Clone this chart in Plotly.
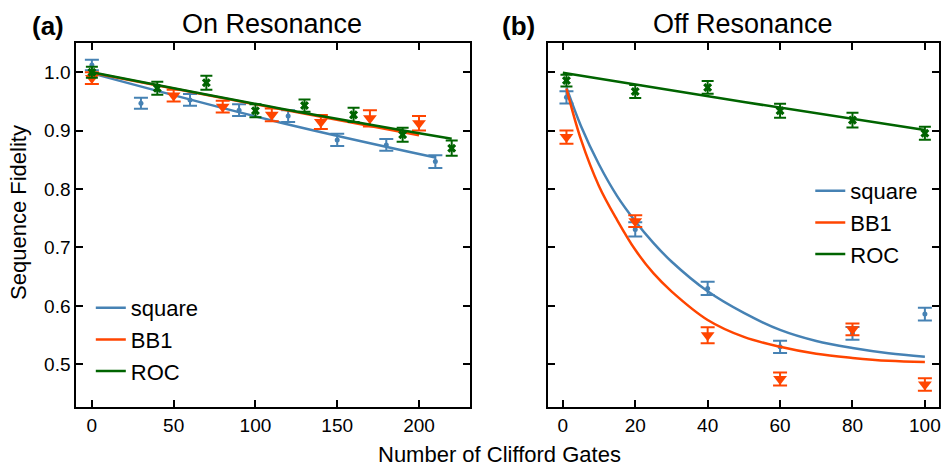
import plotly.graph_objects as go

W, H = 942, 467

# ---------------- data ----------------
# (a) On Resonance
on_square_x = [0, 30, 60, 90, 120, 150, 180, 210]
on_square_y = [1.0125, 0.947, 0.9526, 0.935, 0.925, 0.884, 0.8755, 0.847]
on_square_err = [0.009, 0.0095, 0.01, 0.01, 0.01, 0.0105, 0.01, 0.011]

on_bb1_x = [0, 50, 80, 110, 140, 170, 200]
on_bb1_y = [0.990, 0.960, 0.941, 0.927, 0.9146, 0.921, 0.9127]
on_bb1_err = [0.01, 0.01, 0.01, 0.011, 0.012, 0.014, 0.0125]

on_roc_x = [0, 40, 70, 100, 130, 160, 190, 220]
on_roc_y = [1.0, 0.9726, 0.982, 0.934, 0.943, 0.927, 0.893, 0.870]
on_roc_err = [0.0095, 0.011, 0.012, 0.011, 0.0105, 0.012, 0.012, 0.013]

on_fit_square_x = [0, 115, 210]
on_fit_square_y = [0.998, 0.914, 0.854]
on_fit_bb1_x = [0, 115, 200]
on_fit_bb1_y = [0.999, 0.937, 0.892]
on_fit_roc_x = [0, 115, 220]
on_fit_roc_y = [1.0, 0.938, 0.886]

# (b) Off Resonance
off_x = [1, 20, 40, 60, 80, 100]
off_square_y = [0.957, 0.731, 0.630, 0.530, 0.553, 0.586]
off_square_err = [0.0105, 0.012, 0.0115, 0.0105, 0.011, 0.011]
off_bb1_y = [0.889, 0.745, 0.550, 0.475, 0.560, 0.4655]
off_bb1_err = [0.0114, 0.01, 0.0137, 0.011, 0.01, 0.0105]
off_roc_y = [0.9857, 0.967, 0.974, 0.934, 0.918, 0.8955]
off_roc_err = [0.01, 0.011, 0.011, 0.012, 0.0125, 0.011]

off_fit_x = [1, 5, 10, 15, 20, 25, 30, 40, 50, 60, 70, 80, 90, 100]
off_fit_square_y = [0.974, 0.908, 0.842, 0.788, 0.745, 0.708, 0.676, 0.625,
                    0.588, 0.559, 0.540, 0.528, 0.519, 0.513]
off_fit_bb1_y = [0.972, 0.885, 0.805, 0.747, 0.696, 0.656, 0.625, 0.576,
                 0.547, 0.530, 0.518, 0.511, 0.506, 0.504]
off_fit_roc_x = [0, 50, 100]
off_fit_roc_y = [0.999, 0.949, 0.901]

names = ["square", "BB1", "ROC"]
colors = ["#4682B4", "#FF4500", "#006400"]
symbols = ["circle", "triangle-down", "x"]
msizes = [5, 12, 8]
capw = [7, 7, 6]

left_xticks = [0, 50, 100, 150, 200]
right_xticks = [0, 20, 40, 60, 80, 100]
yticks = [0.5, 0.6, 0.7, 0.8, 0.9, 1.0]

FONT = "Liberation Sans, Arial, sans-serif"

fig = go.Figure()

def add_series(x, y, err, i, xa, ya):
    fig.add_trace(go.Scatter(
        x=x, y=y, mode="markers", xaxis=xa, yaxis=ya, showlegend=False,
        marker=dict(symbol=symbols[i], size=msizes[i], color=colors[i],
                    line=dict(width=0)),
        error_y=dict(type="data", array=err, visible=True, color=colors[i],
                     thickness=2, width=capw[i]),
        hoverinfo="skip"))

def add_fit(x, y, i, xa, ya, leg):
    fig.add_trace(go.Scatter(
        x=x, y=y, mode="lines", xaxis=xa, yaxis=ya, name=names[i],
        line=dict(color=colors[i], width=2.5, shape="spline"),
        legend=leg, showlegend=True))

# left panel
add_series(on_square_x, on_square_y, on_square_err, 0, "x", "y")
add_fit(on_fit_square_x, on_fit_square_y, 0, "x", "y", "legend")
add_series(on_bb1_x, on_bb1_y, on_bb1_err, 1, "x", "y")
add_fit(on_fit_bb1_x, on_fit_bb1_y, 1, "x", "y", "legend")
add_series(on_roc_x, on_roc_y, on_roc_err, 2, "x", "y")
add_fit(on_fit_roc_x, on_fit_roc_y, 2, "x", "y", "legend")

# right panel
add_series(off_x, off_square_y, off_square_err, 0, "x2", "y2")
add_fit(off_fit_x, off_fit_square_y, 0, "x2", "y2", "legend2")
add_series(off_x, off_bb1_y, off_bb1_err, 1, "x2", "y2")
add_fit(off_fit_x, off_fit_bb1_y, 1, "x2", "y2", "legend2")
add_series(off_x, off_roc_y, off_roc_err, 2, "x2", "y2")
add_fit(off_fit_roc_x, off_fit_roc_y, 2, "x2", "y2", "legend2")

def px(xp):
    return xp / W

def py(yp):
    return 1 - yp / H

axis_common = dict(showline=True, linecolor="black", linewidth=2, mirror="ticks",
                   ticks="inside", ticklen=7, tickwidth=2, tickcolor="black",
                   showgrid=False, zeroline=False, ticklabeloverflow="allow",
                   tickfont=dict(family=FONT, size=19, color="black"))

fig.update_layout(
    width=W, height=H,
    margin=dict(l=0, r=0, t=0, b=0),
    paper_bgcolor="white", plot_bgcolor="white",
    font=dict(family=FONT, color="black"),
    xaxis=dict(domain=[px(76.5), px(470.7)], range=[-9.5, 231],
               tickvals=left_xticks, anchor="y", **axis_common),
    yaxis=dict(domain=[py(407), py(43)], range=[0.427, 1.05],
               tickvals=yticks, ticktext=[f"{v:.1f}" for v in yticks],
               anchor="x", **axis_common),
    xaxis2=dict(domain=[px(549.3), px(941)], range=[-4.06, 103.9],
                tickvals=right_xticks, anchor="y2", **axis_common),
    yaxis2=dict(domain=[py(407), py(43)], range=[0.427, 1.05],
                tickvals=yticks, showticklabels=False, anchor="x2", **axis_common),
    legend=dict(x=px(91), y=py(287), xanchor="left", yanchor="top",
                bgcolor="rgba(0,0,0,0)", traceorder="normal",
                font=dict(family=FONT, size=22, color="black")),
    legend2=dict(x=px(812), y=py(170), xanchor="left", yanchor="top",
                 bgcolor="rgba(0,0,0,0)", traceorder="normal",
                 font=dict(family=FONT, size=22, color="black")),
    showlegend=True,
)

annotations = [
    dict(text="<b>(a)</b>", x=px(48), y=py(26), size=26),
    dict(text="On Resonance", x=px(273), y=py(24), size=27),
    dict(text="<b>(b)</b>", x=px(520), y=py(26), size=26),
    dict(text="Off Resonance", x=px(745), y=py(24), size=27),
    dict(text="Number of Clifford Gates", x=px(501), y=py(454), size=22),
]
for a in annotations:
    fig.add_annotation(text=a["text"], x=a["x"], y=a["y"], xref="paper", yref="paper",
                       xanchor="center", yanchor="middle", showarrow=False,
                       font=dict(family=FONT, size=a["size"], color="black"))
fig.add_annotation(text="Sequence Fidelity", x=px(18), y=py(212), xref="paper", yref="paper",
                   xanchor="center", yanchor="middle", showarrow=False, textangle=-90,
                   font=dict(family=FONT, size=22, color="black"))

fig.write_html("out.html", config={"displayModeBar": False},
               post_script="document.body.style.margin='0';document.body.style.overflow='hidden';")
